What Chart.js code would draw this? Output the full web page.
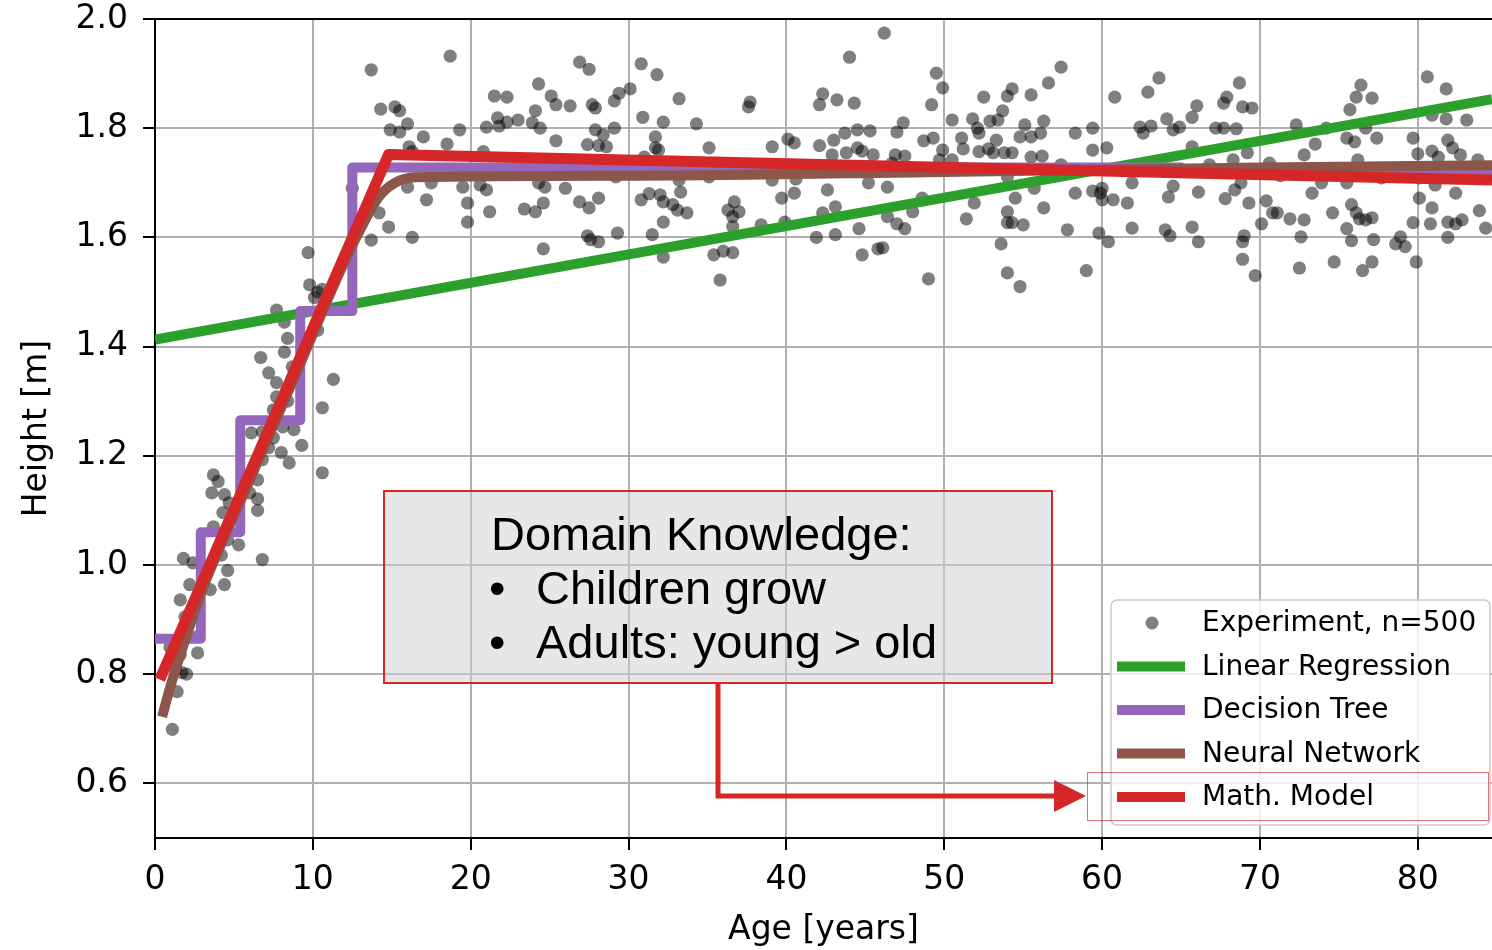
<!DOCTYPE html>
<html>
<head>
<meta charset="utf-8">
<script src="https://cdn.jsdelivr.net/npm/chart.js@4"></script>
<style>
  body { margin: 0; background: #fff; }
  #wrap { width: 1492px; height: 950px; }
</style>
</head>
<body>
<div id="wrap"><canvas id="chart" width="1492" height="950"></canvas></div>
<script>
// tick labels
const xTicks = [0, 10, 20, 30, 40, 50, 60, 70, 80];
const yTicks = [0.6, 0.8, 1.0, 1.2, 1.4, 1.6, 1.8, 2.0];

// model curves [age, height]
const linearFit = [[0, 1.413], [84.7, 1.853]];
const treeFit = [[0, 0.865], [2.9, 1.06], [5.4, 1.265], [9.2, 1.465], [12.5, 1.728], [65, 1.72], [84.7, 1.72]];
const netFit = [[0.45, 0.722], [1.0, 0.78], [2.0, 0.87], [3.0, 0.955], [6.0, 1.155], [9.0, 1.355],
    [12.0, 1.555], [13.2, 1.625], [14.2, 1.675], [15.2, 1.70], [16.5, 1.71], [30, 1.713],
    [50, 1.72], [70, 1.728], [84.7, 1.732]];
const mathModel = [[0.3, 0.79], [14.8, 1.752], [84.7, 1.705]];

const experiment = [
    // children
    [9.7, 1.572], [9.8, 1.513], [10.3, 1.50], [10.6, 1.505], [10.1, 1.49], [7.7, 1.467], [8.2, 1.445],
    [8.4, 1.415], [10.3, 1.43], [8.2, 1.39], [6.7, 1.38], [8.7, 1.363], [7.2, 1.352], [7.7, 1.334],
    [11.3, 1.34], [7.7, 1.308], [8.4, 1.30], [10.6, 1.288], [7.5, 1.284], [6.1, 1.242], [6.8, 1.244],
    [8.1, 1.253], [8.8, 1.248], [7.5, 1.233], [7.2, 1.215], [8.0, 1.206], [9.3, 1.219], [6.8, 1.193],
    [8.5, 1.187], [10.6, 1.169], [3.7, 1.165], [4.0, 1.153], [3.6, 1.132], [4.4, 1.129], [6.5, 1.156],
    [6.0, 1.132], [6.5, 1.121], [6.5, 1.10], [4.7, 1.114], [4.3, 1.096], [3.7, 1.07], [4.6, 1.046],
    [5.3, 1.037], [4.2, 1.018], [6.8, 1.01], [1.8, 1.012], [2.4, 1.004], [4.6, 0.99], [2.2, 0.964],
    [3.5, 0.955], [4.4, 0.964], [1.6, 0.936], [1.9, 0.905], [2.7, 0.869], [2.7, 0.839], [0.95, 0.85],
    [1.6, 0.836], [1.3, 0.809], [1.7, 0.803], [2.0, 0.80], [1.4, 0.768], [1.1, 0.699],
    // 12 - 37 years
    [13.7, 1.907], [18.7, 1.932], [14.3, 1.835], [15.2, 1.839], [15.5, 1.832], [16.0, 1.808], [14.9, 1.797],
    [15.5, 1.793], [17.0, 1.784], [18.5, 1.771], [19.3, 1.797], [16.1, 1.766], [16.3, 1.757], [12.5, 1.69],
    [14.2, 1.645], [14.8, 1.619], [13.7, 1.595], [16.3, 1.60], [16.0, 1.692], [17.2, 1.669], [17.5, 1.70],
    [19.5, 1.692], [19.8, 1.663], [19.8, 1.628], [20.6, 1.696], [21.0, 1.687], [21.2, 1.647], [20.8, 1.757],
    [21.0, 1.802], [21.7, 1.819], [21.8, 1.804], [22.3, 1.811], [23.0, 1.815], [21.5, 1.859], [22.3, 1.857],
    [24.1, 1.832], [23.9, 1.81], [24.4, 1.80], [24.3, 1.881], [25.1, 1.859], [25.4, 1.843], [26.3, 1.841],
    [25.4, 1.777], [26.9, 1.921], [27.5, 1.908], [27.7, 1.843], [27.9, 1.837], [27.9, 1.797], [28.4, 1.788],
    [27.4, 1.77], [28.1, 1.768], [28.6, 1.766], [29.1, 1.80], [29.1, 1.85], [29.4, 1.864], [30.1, 1.872],
    [30.8, 1.918], [31.8, 1.898], [33.2, 1.854], [30.9, 1.82], [32.2, 1.811], [34.3, 1.808], [35.1, 1.764],
    [31.7, 1.784], [31.7, 1.764], [31.9, 1.76], [31.0, 1.747], [23.4, 1.652], [24.1, 1.647], [24.6, 1.663],
    [24.7, 1.692], [24.3, 1.70], [26.0, 1.69], [26.9, 1.665], [27.5, 1.654], [28.1, 1.672], [29.2, 1.711],
    [24.6, 1.579], [27.4, 1.603], [27.6, 1.596], [28.1, 1.592], [29.3, 1.608], [30.8, 1.669], [31.3, 1.68],
    [32.0, 1.678], [32.2, 1.665], [32.8, 1.66], [33.1, 1.65], [33.3, 1.683], [33.7, 1.645], [31.5, 1.605],
    [32.2, 1.628], [33.2, 1.705], [35.1, 1.711], [36.3, 1.65], [36.7, 1.665], [36.6, 1.638], [36.6, 1.62],
    [35.4, 1.568], [36.0, 1.575], [36.6, 1.572], [35.8, 1.522], [32.2, 1.564],
    // 37 - 61 years
    [46.2, 1.974], [44.0, 1.93], [37.7, 1.848], [37.6, 1.839], [42.3, 1.863], [42.1, 1.843], [43.2, 1.852],
    [44.3, 1.846], [49.5, 1.901], [49.9, 1.874], [49.2, 1.843], [57.4, 1.912], [56.6, 1.883], [55.5, 1.861],
    [54.3, 1.872], [54.0, 1.859], [52.5, 1.857], [53.7, 1.832], [53.4, 1.815], [52.9, 1.813], [51.8, 1.817],
    [52.1, 1.80], [52.2, 1.791], [50.5, 1.815], [51.1, 1.782], [51.2, 1.762], [52.2, 1.757], [52.8, 1.762],
    [53.1, 1.755], [53.3, 1.778], [53.8, 1.755], [54.3, 1.755], [54.8, 1.784], [55.1, 1.806], [55.5, 1.784],
    [56.1, 1.791], [56.3, 1.813], [55.5, 1.747], [56.2, 1.749], [57.4, 1.733], [58.3, 1.791], [59.4, 1.80],
    [59.4, 1.76], [60.3, 1.764], [60.8, 1.857], [49.9, 1.76], [50.5, 1.742], [49.7, 1.742], [48.7, 1.777],
    [49.3, 1.782], [39.1, 1.766], [40.1, 1.78], [40.5, 1.773], [42.1, 1.768], [43.0, 1.778], [42.9, 1.751],
    [43.7, 1.791], [44.5, 1.797], [45.3, 1.795], [44.5, 1.764], [44.8, 1.758], [45.5, 1.751], [43.8, 1.755],
    [47.0, 1.793], [47.4, 1.81], [46.9, 1.751], [47.5, 1.749], [39.1, 1.705], [40.6, 1.707], [39.7, 1.672],
    [40.5, 1.681], [42.6, 1.687], [43.1, 1.656], [42.3, 1.645], [45.2, 1.70], [46.4, 1.692], [46.7, 1.736],
    [48.6, 1.672], [48.0, 1.647], [46.4, 1.638], [47.0, 1.625], [47.5, 1.616], [44.6, 1.616], [43.1, 1.605],
    [41.9, 1.60], [39.9, 1.628], [38.4, 1.623], [37.0, 1.647], [44.8, 1.568], [45.8, 1.579], [46.1, 1.581],
    [49.0, 1.524], [51.4, 1.634], [51.9, 1.663], [54.0, 1.711], [54.5, 1.672], [54.0, 1.647], [54.0, 1.627],
    [54.3, 1.627], [55.0, 1.623], [53.6, 1.588], [54.0, 1.535], [54.8, 1.51], [56.3, 1.654], [55.7, 1.69],
    [58.3, 1.681], [57.8, 1.614], [59.4, 1.685], [59.9, 1.681], [60.0, 1.669], [59.8, 1.608], [59.0, 1.539],
    // 60 - 85 years
    [62.9, 1.866], [63.6, 1.892], [68.7, 1.883], [67.9, 1.857], [67.7, 1.846], [66.0, 1.841], [65.7, 1.82],
    [64.1, 1.817], [62.4, 1.802], [62.6, 1.791], [63.1, 1.804], [64.5, 1.797], [64.9, 1.802], [67.2, 1.80],
    [67.7, 1.80], [68.5, 1.799], [68.9, 1.839], [69.5, 1.837], [65.7, 1.766], [66.8, 1.733], [68.3, 1.742],
    [69.2, 1.755], [70.6, 1.736], [71.3, 1.713], [72.3, 1.806], [72.8, 1.751], [73.5, 1.771], [74.2, 1.80],
    [73.9, 1.70], [73.3, 1.681], [75.7, 1.834], [76.1, 1.857], [76.4, 1.879], [77.1, 1.855], [75.5, 1.782],
    [76.0, 1.775], [76.7, 1.80], [77.4, 1.782], [76.2, 1.742], [75.5, 1.70], [77.7, 1.709], [80.6, 1.894],
    [81.8, 1.872], [83.1, 1.815], [81.8, 1.817], [80.9, 1.824], [79.7, 1.782], [80.0, 1.753], [80.9, 1.758],
    [81.3, 1.747], [81.9, 1.778], [82.2, 1.764], [82.7, 1.751], [83.8, 1.742], [81.1, 1.696], [80.1, 1.709],
    [82.4, 1.681], [80.1, 1.672], [80.9, 1.654], [80.8, 1.625], [81.9, 1.628], [82.4, 1.625], [82.8, 1.632],
    [83.9, 1.649], [84.3, 1.617], [79.7, 1.627], [79.9, 1.555], [79.2, 1.583], [78.9, 1.601], [78.6, 1.588],
    [81.9, 1.60], [77.1, 1.636], [76.7, 1.632], [76.3, 1.634], [75.8, 1.66], [76.1, 1.645], [75.5, 1.616],
    [75.8, 1.594], [77.2, 1.596], [77.1, 1.555], [76.5, 1.539], [74.7, 1.555], [74.6, 1.645], [72.6, 1.601],
    [72.8, 1.632], [71.9, 1.634], [71.1, 1.645], [70.8, 1.645], [70.1, 1.625], [70.4, 1.667], [69.3, 1.663],
    [68.8, 1.70], [68.4, 1.687], [67.8, 1.671], [69.0, 1.603], [68.9, 1.592], [68.9, 1.56], [69.7, 1.53],
    [72.5, 1.544], [66.1, 1.683], [66.1, 1.592], [65.7, 1.619], [64.3, 1.603], [64.0, 1.614], [64.2, 1.674],
    [64.5, 1.694], [61.9, 1.617], [61.6, 1.663], [60.7, 1.669], [61.9, 1.70], [60.0, 1.69], [60.4, 1.592]
];

const legendItems = [
    { label: 'Experiment, n=500', color: 'rgba(0,0,0,0.5)', dot: true },
    { label: 'Linear Regression', color: '#2ca02c' },
    { label: 'Decision Tree', color: '#9467bd' },
    { label: 'Neural Network', color: '#8c564b' },
    { label: 'Math. Model', color: '#d62728' }
];

const boxLines = ['Domain Knowledge:', 'Children grow', 'Adults: young > old'];

const toXY = arr => arr.map(p => ({ x: p[0], y: p[1] }));

function lineSet(label, data, color, extra) {
    return Object.assign({
        label: label,
        data: toXY(data),
        showLine: true,
        borderColor: color,
        backgroundColor: color,
        borderWidth: 10,
        pointRadius: 0,
        borderJoinStyle: 'round',
        borderCapStyle: 'butt'
    }, extra || {});
}

// legend, annotation box, arrow and top spine
const overlay = {
    id: 'overlay',
    afterDraw(chart) {
        const ctx = chart.ctx;
        const a = chart.chartArea;
        ctx.save();

        ctx.strokeStyle = '#000';
        ctx.lineWidth = 2;
        ctx.beginPath();
        ctx.moveTo(a.left, a.top);
        ctx.lineTo(a.right, a.top);
        ctx.stroke();

        // text box
        ctx.fillStyle = 'rgba(208,208,208,0.5)';
        ctx.fillRect(384, 491, 668, 192);
        ctx.strokeStyle = '#d62728';
        ctx.lineWidth = 2;
        ctx.strokeRect(384, 491, 668, 192);
        ctx.fillStyle = '#000';
        ctx.font = '47px "Liberation Sans", Arial, sans-serif';
        ctx.textBaseline = 'alphabetic';
        ctx.textAlign = 'left';
        ctx.fillText(boxLines[0], 491, 550);
        ctx.fillText('\u2022', 489, 604);
        ctx.fillText(boxLines[1], 536, 604);
        ctx.fillText('\u2022', 489, 658);
        ctx.fillText(boxLines[2], 536, 658);

        // arrow
        ctx.strokeStyle = '#d62728';
        ctx.lineWidth = 5;
        ctx.lineJoin = 'miter';
        ctx.beginPath();
        ctx.moveTo(718, 684);
        ctx.lineTo(718, 796);
        ctx.lineTo(1058, 796);
        ctx.stroke();
        ctx.fillStyle = '#d62728';
        ctx.beginPath();
        ctx.moveTo(1054, 780);
        ctx.lineTo(1086, 796);
        ctx.lineTo(1054, 812);
        ctx.closePath();
        ctx.fill();

        // legend
        const lx = 1111, ly = 600, lw = 379, lh = 225;
        ctx.beginPath();
        ctx.roundRect(lx, ly, lw, lh, 6);
        ctx.fillStyle = 'rgba(255,255,255,0.8)';
        ctx.fill();
        ctx.strokeStyle = '#cccccc';
        ctx.lineWidth = 1.5;
        ctx.stroke();
        ctx.font = '28px "DejaVu Sans", sans-serif';
        ctx.textBaseline = 'middle';
        legendItems.forEach((item, i) => {
            const y = 623 + i * 43.5;
            if (item.dot) {
                ctx.fillStyle = item.color;
                ctx.beginPath();
                ctx.arc(1152, y, 6.5, 0, Math.PI * 2);
                ctx.fill();
            } else {
                ctx.fillStyle = item.color;
                ctx.fillRect(1117, y - 5, 68, 10);
            }
            ctx.fillStyle = '#000';
            ctx.fillText(item.label, 1202, y + 1);
        });

        ctx.strokeStyle = 'rgba(214,39,40,0.65)';
        ctx.lineWidth = 1;
        ctx.strokeRect(1087.5, 772.5, 401, 48);
        ctx.restore();
    }
};

const tickFont = { family: '"DejaVu Sans", sans-serif', size: 33 };

function noPad(s) {
    s.paddingTop = 0;
    s.paddingBottom = 0;
    s.paddingLeft = 0;
    s.paddingRight = 0;
}

new Chart(document.getElementById('chart'), {
    type: 'scatter',
    data: {
        datasets: [
            lineSet('Math. Model', mathModel, '#d62728', { borderWidth: 11 }),
            lineSet('Neural Network', netFit, '#8c564b', { cubicInterpolationMode: 'monotone' }),
            lineSet('Decision Tree', treeFit, '#9467bd', { stepped: 'before' }),
            lineSet('Linear Regression', linearFit, '#2ca02c'),
            {
                label: 'Experiment, n=500',
                data: toXY(experiment),
                pointRadius: 6.6,
                pointBorderWidth: 0,
                backgroundColor: 'rgba(0,0,0,0.5)',
                borderColor: 'rgba(0,0,0,0)'
            }
        ]
    },
    options: {
        responsive: false,
        animation: false,
        layout: { autoPadding: false, padding: { top: 19, right: 0, left: 0, bottom: 0 } },
        plugins: {
            legend: { display: false },
            tooltip: { enabled: false }
        },
        scales: {
            x: {
                type: 'linear',
                min: 0,
                max: 84.7,
                afterBuildTicks: s => { s.ticks = xTicks.map(v => ({ value: v })); },
                afterFit: s => { s.height = 112; noPad(s); },
                grid: { color: '#b0b0b0', lineWidth: 2, tickColor: '#000', tickLength: 12, tickWidth: 2 },
                border: { color: '#000', width: 2 },
                ticks: { color: '#000', font: tickFont, padding: 11, maxRotation: 0 },
                title: { display: true, text: 'Age [years]', color: '#000', font: tickFont, padding: { top: 0, bottom: 0 } }
            },
            y: {
                type: 'linear',
                min: 0.5,
                max: 2.0,
                afterBuildTicks: s => { s.ticks = yTicks.map(v => ({ value: v })); },
                afterFit: s => { s.width = 155; noPad(s); },
                grid: { color: '#b0b0b0', lineWidth: 2, tickColor: '#000', tickLength: 12, tickWidth: 2 },
                border: { color: '#000', width: 2 },
                ticks: { color: '#000', font: tickFont, padding: 15, callback: v => v.toFixed(1) },
                title: { display: true, text: 'Height [m]', color: '#000', font: tickFont, padding: { top: 18, bottom: 0 } }
            }
        }
    },
    plugins: [overlay]
});
</script>
</body>
</html>
